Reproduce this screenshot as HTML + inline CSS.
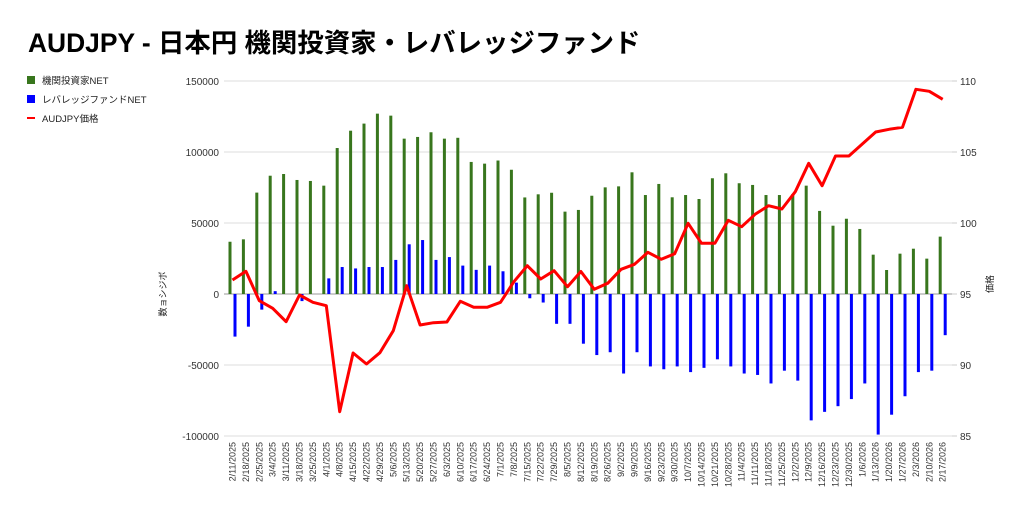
<!DOCTYPE html>
<html><head><meta charset="utf-8"><style>
body{margin:0;background:#fff;width:1024px;height:516px;overflow:hidden}
svg text{font-family:"Liberation Sans","Noto Sans CJK JP",sans-serif}
</style></head><body>
<svg id="c" width="1024" height="516" xmlns="http://www.w3.org/2000/svg">
<text x="28" y="52" font-size="26.4" font-weight="bold" fill="#000">AUDJPY - 日本円 機関投資家・レバレッジファンド</text>
<rect x="27" y="76" width="8" height="8" fill="#38761d"/>
<text x="42" y="84" font-size="9.5" fill="#222">機関投資家NET</text>
<rect x="27" y="95" width="8" height="8" fill="#0000ff"/>
<text x="42" y="103" font-size="9.5" fill="#222">レバレッジファンドNET</text>
<rect x="27" y="117" width="8" height="2" fill="#ff0000"/>
<text x="42" y="122" font-size="9.5" fill="#222">AUDJPY価格</text>
<text transform="translate(166,294) rotate(-90)" font-size="9" text-anchor="middle" fill="#222">数ョシジボ</text>
<text transform="translate(993,284) rotate(-90)" font-size="9" text-anchor="middle" fill="#222">価格</text>
<g id="g"></g>
</svg>
<script>
var g=document.getElementById('g'),s='';
var L=[150000,100000,50000,0,-50000,-100000],R=[110,105,100,95,90,85];
for(var k=0;k<6;k++){var y=81+k*71;
s+='<line x1="224" x2="952" y1="'+y+'" y2="'+y+'" stroke="'+(k==3?'#999':'#ddd')+'" stroke-width="1"/>';
s+='<text x="219" y="'+(y+4)+'" font-size="10" text-anchor="end" fill="#333">'+L[k]+'</text>';
s+='<line x1="952" x2="957" y1="'+y+'" y2="'+y+'" stroke="#ccc"/>';
s+='<text x="960" y="'+(y+4)+'" font-size="10" fill="#333">'+R[k]+'</text>';}
var G=[36.8,38.5,71.4,83.3,84.5,80.3,79.6,76.3,102.8,115,120,127,125.6,109.4,110.6,113.9,109.4,110,93,91.8,94,87.5,68,70.2,71.3,58,59.2,69.2,75.1,75.8,85.7,69.7,77.5,68.1,69.7,66.9,81.5,85,78,76.8,69.7,69.7,70.4,76.3,58.5,48.1,53,45.8,27.7,16.9,28.4,31.9,24.9,40.4];
var B=[-30,-23,-11,2,0,-5,0,11,19,18,19,19,24,35,38,24,26,20,17,20,16,8,-3,-6,-21,-21,-35,-43,-41,-56,-41,-51,-53,-51,-55,-52,-46,-51,-56,-57,-63,-54,-61,-89,-83,-79,-74,-63,-99,-85,-72,-55,-54,-29];
var P=[280,271.3,300.7,308.3,321.7,295,302.3,305.7,411.7,353,364,352.7,330.7,285.7,325,322.7,322,301.3,307.3,307.3,302.3,281.7,265.7,279,270.7,286.7,271.5,289.3,283.3,269.3,264.3,252.3,259.3,253.7,223.3,243.3,243.3,220.3,226.7,214.3,205.7,209,191.7,163.3,185.7,156,156,144,132,129.3,127.3,89.3,91.3,99.3];
var d=new Date(Date.UTC(2025,1,11)),pts=[];
function bar(x,v,c){var h=v*71/50;if(Math.abs(h)<0.5)return '';var y=h>0?294-h:294;return '<rect x="'+(x-1.5)+'" y="'+y+'" width="3" height="'+Math.abs(h)+'" fill="'+c+'"/>';}
for(var i=0;i<54;i++){var cx=232.5+i*13.4;
s+=bar(cx-2.5,G[i],'#38761d')+bar(cx+2.5,B[i],'#0000ff');
pts.push(cx.toFixed(1)+','+P[i]);
var t=(d.getUTCMonth()+1)+'/'+d.getUTCDate()+'/'+d.getUTCFullYear();
s+='<text transform="translate('+(cx+3)+',442) rotate(-90)" font-size="9" text-anchor="end" fill="#333">'+t+'</text>';
d.setUTCDate(d.getUTCDate()+7);}
s+='<polyline points="'+pts.join(' ')+'" fill="none" stroke="#ff0000" stroke-width="3" stroke-linejoin="round"/>';
g.innerHTML=s;
</script>
</body></html>
